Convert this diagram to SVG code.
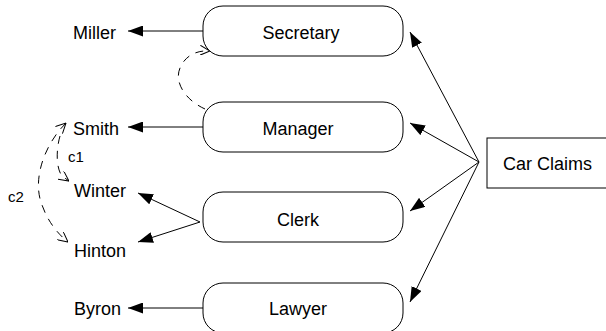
<svg xmlns="http://www.w3.org/2000/svg" width="606" height="331" viewBox="0 0 606 331">
  <defs>
    <style>
      .box { fill: #fff; stroke: #000; stroke-width: 1; }
      .lbl { font-family: "Liberation Sans", Arial, sans-serif; font-size: 18px; fill: #000; }
      .small { font-family: "Liberation Sans", Arial, sans-serif; font-size: 15px; fill: #000; }
      .edge { fill: none; stroke: #000; stroke-width: 1; }
      .dash { fill: none; stroke: #000; stroke-width: 1; stroke-dasharray: 8 7; }
    </style>
    <marker id="solid" viewBox="0 0 15 11" refX="15" refY="5.5" markerWidth="15" markerHeight="11" markerUnits="userSpaceOnUse" orient="auto">
      <path d="M0,0 L15,5.5 L0,11 Z" fill="#000"/>
    </marker>
    <marker id="open" viewBox="0 0 10 10" refX="10" refY="5" markerWidth="10" markerHeight="10" markerUnits="userSpaceOnUse" orient="auto">
      <path d="M0,0 L10,5 L0,10" fill="none" stroke="#000" stroke-width="1"/>
    </marker>
    <marker id="openStart" viewBox="0 0 10 10" refX="0" refY="5" markerWidth="10" markerHeight="10" markerUnits="userSpaceOnUse" orient="auto">
      <path d="M10,0 L0,5 L10,10" fill="none" stroke="#000" stroke-width="1"/>
    </marker>
  </defs>

  <!-- connectors -->
  <g id="connectors">
    <line class="edge" x1="203" y1="31" x2="128" y2="31" marker-end="url(#solid)"/>
    <line class="edge" x1="203" y1="127" x2="128" y2="127" marker-end="url(#solid)"/>
    <line class="edge" x1="200" y1="222" x2="138" y2="193" marker-end="url(#solid)"/>
    <line class="edge" x1="200" y1="222" x2="138" y2="242" marker-end="url(#solid)"/>
    <line class="edge" x1="203" y1="308" x2="128" y2="308" marker-end="url(#solid)"/>

    <line class="edge" x1="479" y1="162" x2="410" y2="32" marker-end="url(#solid)"/>
    <line class="edge" x1="479" y1="162" x2="410" y2="123" marker-end="url(#solid)"/>
    <line class="edge" x1="479" y1="162" x2="410" y2="211" marker-end="url(#solid)"/>
    <line class="edge" x1="479" y1="162" x2="410" y2="302" marker-end="url(#solid)"/>

    <!-- Manager to Secretary -->
    <path class="dash" d="M205,109 C185,100 174,82 180,68 C185,56 196,50 210,51" marker-end="url(#open)"/>
    <!-- c1 -->
    <path class="dash" d="M60,136 C56,150 56,168 62,176 L69,181" marker-end="url(#open)"/>
    <!-- c2 -->
    <path class="dash" d="M66,123 C44,145 32,180 42,205 C48,222 58,234 68,242" marker-start="url(#openStart)" marker-end="url(#open)"/>
  </g>

  <!-- labels of the dependency arcs -->
  <text class="small" x="68" y="162">c1</text>
  <text class="small" x="8" y="202">c2</text>

  <g id="secretary">
    <rect class="box" x="203" y="6" width="200" height="50" rx="20" ry="20"/>
    <text class="lbl" x="301" y="38.5" text-anchor="middle">Secretary</text>
  </g>
  <g id="manager">
    <rect class="box" x="203" y="102" width="200" height="50" rx="20" ry="20"/>
    <text class="lbl" x="298" y="134.5" text-anchor="middle">Manager</text>
  </g>
  <g id="clerk">
    <rect class="box" x="203" y="192" width="200" height="50" rx="20" ry="20"/>
    <text class="lbl" x="298" y="226" text-anchor="middle">Clerk</text>
  </g>
  <g id="lawyer">
    <rect class="box" x="203" y="283" width="200" height="50" rx="20" ry="20"/>
    <text class="lbl" x="298" y="315" text-anchor="middle">Lawyer</text>
  </g>
  <g id="car-claims">
    <rect class="box" x="487" y="138" width="125" height="50"/>
    <text class="lbl" x="503" y="170">Car Claims</text>
  </g>

  <g id="miller"><text class="lbl" x="73" y="38.5">Miller</text></g>
  <g id="smith"><text class="lbl" x="73" y="134.5">Smith</text></g>
  <g id="winter"><text class="lbl" x="74" y="196.5">Winter</text></g>
  <g id="hinton"><text class="lbl" x="74" y="256.5">Hinton</text></g>
  <g id="byron"><text class="lbl" x="74" y="314.5">Byron</text></g>
</svg>
